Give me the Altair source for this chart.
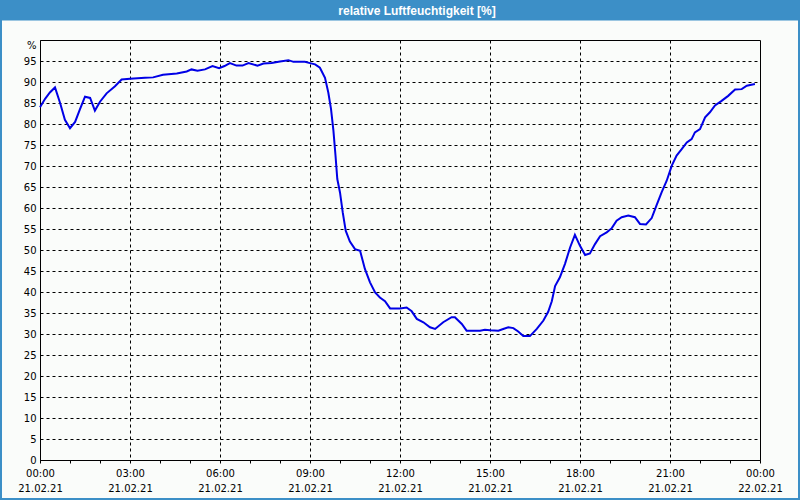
import altair as alt
import pandas as pd

# Hours since 21.02.21 00:00 and relative humidity (%)
hours = [0.0, 0.17, 0.33, 0.5, 0.67, 0.83, 1.0, 1.17, 1.33, 1.5, 1.67, 1.83,
         2.0, 2.22, 2.5, 2.72, 3.0, 3.5, 3.77, 4.1, 4.56, 4.89, 5.05, 5.25,
         5.5, 5.75, 5.97, 6.15, 6.33, 6.55, 6.75, 6.95, 7.25, 7.45, 7.72, 8.0,
         8.28, 8.45, 8.83, 9.0, 9.17, 9.33, 9.5, 9.61, 9.7, 9.78, 9.85, 9.91,
         10.0, 10.09, 10.19, 10.33, 10.5, 10.67, 10.83, 11.0, 11.17, 11.33,
         11.5, 11.67, 12.0, 12.22, 12.39, 12.56, 12.78, 13.0, 13.17, 13.44,
         13.72, 13.83, 14.06, 14.22, 14.67, 14.83, 15.0, 15.28, 15.44, 15.61,
         15.78, 15.94, 16.11, 16.33, 16.56, 16.78, 16.94, 17.06, 17.17, 17.33,
         17.5, 17.67, 17.83, 18.0, 18.17, 18.33, 18.5, 18.67, 18.89, 19.06,
         19.22, 19.39, 19.61, 19.83, 20.0, 20.2, 20.39, 20.56, 20.72, 20.89,
         21.06, 21.22, 21.39, 21.56, 21.72, 21.83, 22.0, 22.17, 22.33, 22.5,
         22.72, 22.94, 23.17, 23.39, 23.56, 23.83]
humidity = [84.0, 86.0, 87.5, 88.7, 85.0, 81.0, 79.0, 80.5, 83.5, 86.5, 86.2, 83.2,
            85.3, 87.3, 89.0, 90.6, 90.8, 91.0, 91.1, 91.7, 92.0, 92.5, 93.0, 92.7,
            93.0, 93.8, 93.3, 93.8, 94.5, 93.9, 93.9, 94.5, 93.9, 94.4, 94.5, 94.9,
            95.2, 94.8, 94.8, 94.5, 94.2, 93.4, 91.0, 87.5, 83.6, 78.5, 72.5, 66.9,
            63.7, 59.0, 54.6, 52.0, 50.2, 49.8, 45.5, 42.3, 39.9, 38.7,
            37.8, 36.1, 36.1, 36.3, 35.4, 33.6, 32.8, 31.6, 31.2, 32.8,
            34.0, 34.0, 32.4, 30.8, 30.8, 31.0, 30.9, 30.8, 31.2, 31.6,
            31.4, 30.6, 29.5, 29.5, 31.2, 33.2, 35.3, 37.8, 41.4, 43.5,
            46.7, 50.6, 53.6, 51.0, 48.8, 49.2, 51.4, 53.3, 54.2, 55.2,
            57.0, 57.8, 58.2, 57.8, 56.2, 56.1, 57.6, 60.8, 63.7, 66.5,
            70.1, 72.5, 74.0, 75.6, 76.4, 78.0, 78.8, 81.6, 82.8, 84.4,
            85.5, 86.7, 88.2, 88.3, 89.1, 89.5]

title_text = "relative Luftfeuchtigkeit [%]"
x_ticks = list(range(0, 25))
y_ticks = list(range(0, 101, 5))

BLUE = "#3c8fc7"
BG = "#fafcfa"
FONT = "DejaVu Sans"

df = pd.DataFrame({"h": hours, "rh": humidity})
one = pd.DataFrame({"a": [0]})

x_label_expr = (
    "datum.value % 3 == 0 ? "
    "[(datum.value % 24 < 10 ? '0' : '') + (datum.value % 24) + ':00', "
    "datum.value == 24 ? '22.02.21' : '21.02.21'] : ''"
)

x_axis = alt.Axis(
    values=x_ticks, title=None, tickSize=3, tickColor="black",
    domainColor="black", labelExpr=x_label_expr, labelFont=FONT,
    labelFontSize=10, labelColor="black", labelLineHeight=15,
    labelPadding=5, labelFlush=False, labelOverlap=False, labelBound=False,
    grid=True, gridColor="black", gridDash=[3, 3], gridWidth=1,
    gridOpacity={"condition": {"test": "datum.value % 3 == 0 && datum.value > 0 && datum.value < 24", "value": 1}, "value": 0},
)

y_axis = alt.Axis(
    values=y_ticks, title=None, ticks=False, domainColor="black",
    labelExpr="datum.value == 100 ? '%' : datum.label", labelFont=FONT,
    labelFontSize=10, labelColor="black", labelPadding=4, labelOverlap=False,
    labelBound=False, labelFlush=False,
    labelBaseline={"condition": {"test": "datum.value == 100", "value": "top"}, "value": "middle"},
    grid=True, gridColor="black", gridDash=[3, 3], gridWidth=1,
    gridOpacity={"condition": {"test": "datum.value > 0 && datum.value < 100", "value": 1}, "value": 0},
)

line = alt.Chart(df).mark_line(color="#0000e6", strokeWidth=2).encode(
    x=alt.X("h:Q", scale=alt.Scale(domain=[0, 24], nice=False, zero=False), axis=x_axis),
    y=alt.Y("rh:Q", scale=alt.Scale(domain=[0, 100], nice=False), axis=y_axis),
)

top_bar = alt.Chart(one).mark_rect(color=BLUE).encode(
    x=alt.value(-40), x2=alt.value(760), y=alt.value(-40), y2=alt.value(-19.5)
)
frame = alt.Chart(one).mark_rect(fill=None, stroke=BLUE, strokeWidth=2).encode(
    x=alt.value(-39), x2=alt.value(759), y=alt.value(-39), y2=alt.value(459)
)
title = alt.Chart(one).mark_text(
    color="white", font="Liberation Sans", fontWeight="bold", fontSize=12,
    align="center", baseline="middle"
).encode(x=alt.value(377), y=alt.value(-29.5), text=alt.value(title_text))

chart = alt.layer(line, frame, top_bar, title).properties(
    width=720, height=420,
    padding={"left": 40, "top": 40, "right": 40, "bottom": 40},
    autosize="none", background=BG,
).configure_view(stroke="black", strokeWidth=1)

chart.save("out.html", embed_options={"renderer": "svg", "actions": False})
